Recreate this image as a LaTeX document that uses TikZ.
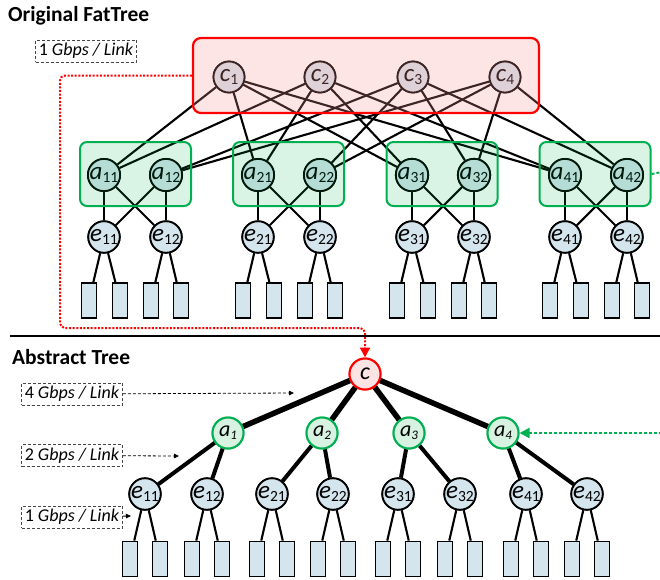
\documentclass[tikz,border=0pt]{standalone}
\usepackage{fontspec}
\setmainfont{Carlito}
\usetikzlibrary{arrows.meta}

\definecolor{swblue}{RGB}{213,229,238}
\definecolor{pgreen}{RGB}{0,176,80}
\definecolor{coretint}{RGB}{250,150,150}
\definecolor{rootfill}{RGB}{253,228,228}
\definecolor{aggfill}{RGB}{216,242,226}
\definecolor{labelgray}{RGB}{70,70,70}

% switch label: italic letter with a lowered index
\newcommand\swl[2]{{\fontsize{25}{25}\selectfont\itshape #1}\raisebox{-3pt}{\fontsize{15.5}{15.5}\selectfont #2}}
\newcommand\swm[2]{{\fontsize{22}{22}\selectfont\itshape #1}\raisebox{-3pt}{\fontsize{13}{13}\selectfont\itshape #2}}
\newcommand\rate[1]{{\fontsize{18}{18}\selectfont #1 \textit{Gbps / Link}}}

\begin{document}
\begin{tikzpicture}[x=1pt,y=-1pt,
  sw/.style={circle, draw=black, line width=1.8pt, fill=swblue, minimum size=31pt, inner sep=0pt},
  host/.style={rectangle, draw=black, line width=1.8pt, fill=swblue, minimum width=15pt, minimum height=35pt, inner sep=0pt},
  link/.style={line width=2.1pt},
  fatlink/.style={line width=5.5pt},
  midlink/.style={line width=4pt},
  podbox/.style={rectangle, rounded corners=7pt, draw=pgreen, line width=2pt, fill=pgreen, fill opacity=0.15, minimum width=111pt, minimum height=64pt},
  corebox/.style={rectangle, rounded corners=8pt, draw=red, line width=2.2pt, fill=coretint, fill opacity=0.25, minimum width=346pt, minimum height=75pt},
  ratebox/.style={draw=labelgray, dash pattern=on 3pt off 2pt, line width=0.9pt, minimum width=101pt, minimum height=22pt, inner sep=0pt},
  ratearrow/.style={dash pattern=on 3pt off 2pt, line width=0.8pt, -{Triangle[length=5pt,width=4.5pt]}},
  redlink/.style={red, line width=2pt, dash pattern=on 2pt off 1.6pt, rounded corners=5pt, -{Triangle[length=10pt,width=10pt]}},
  greenlink/.style={pgreen, line width=2pt, dash pattern=on 3pt off 2pt},
  title/.style={anchor=west, font=\fontsize{21.5}{21.5}\selectfont\bfseries, inner sep=0pt}
]
\useasboundingbox (0,0) rectangle (660,579);

% ---------------- FatTree ----------------
\node[title] (t1) at (8,16) {Original FatTree};
\node[ratebox] (r0) at (86,51) {\rate{1}};

% core switches
\foreach \i/\x in {1/229,2/320,3/413,4/505}
  \node[sw] (c\i) at (\x,77) {\swl{c}{\i}};

% pods
\foreach \p/\x in {1/104,2/258,3/412,4/565}{
  \node[sw] (a\p1) at (\x,175) {\swl{a}{\p1}};
  \node[sw] (a\p2) at (\x+62,175) {\swl{a}{\p2}};
  \node[sw] (e\p1) at (\x,237) {\swl{e}{\p1}};
  \node[sw] (e\p2) at (\x+62,237) {\swl{e}{\p2}};
  \node[host] (h\p1a) at (\x-15,300.5) {};
  \node[host] (h\p1b) at (\x+16,300.5) {};
  \node[host] (h\p2a) at (\x+47,300.5) {};
  \node[host] (h\p2b) at (\x+77,300.5) {};
}

\foreach \p in {1,...,4}{
  \draw[link] (c1) -- (a\p1);
  \draw[link] (c2) -- (a\p1);
  \draw[link] (c3) -- (a\p2);
  \draw[link] (c4) -- (a\p2);
  \draw[link] (a\p1) -- (e\p1);
  \draw[link] (a\p1) -- (e\p2);
  \draw[link] (a\p2) -- (e\p1);
  \draw[link] (a\p2) -- (e\p2);
  \draw[link] (e\p1) -- (h\p1a);
  \draw[link] (e\p1) -- (h\p1b);
  \draw[link] (e\p2) -- (h\p2a);
  \draw[link] (e\p2) -- (h\p2b);
}

% redraw switches above the links
\foreach \i/\x in {1/229,2/320,3/413,4/505}
  \node[sw] at (\x,77) {\swl{c}{\i}};
\foreach \p/\x in {1/104,2/258,3/412,4/565}{
  \node[sw] at (\x,175) {\swl{a}{\p1}};
  \node[sw] at (\x+62,175) {\swl{a}{\p2}};
  \node[sw] at (\x,237) {\swl{e}{\p1}};
  \node[sw] at (\x+62,237) {\swl{e}{\p2}};
}

% tinted group boxes
\foreach \p/\x in {1/135.5,2/288.5,3/442,4/595}
  \node[podbox] (pod\p) at (\x,174) {};
\node[corebox] (core) at (366,75.5) {};

% divider
\coordinate (d1) at (10,336);
\coordinate (d2) at (661,336);
\draw[line width=1.4pt] (d1) -- (d2);

% ---------------- Abstract tree ----------------
\node[title] (t2) at (12,357) {Abstract Tree};

\node[circle, draw=red, line width=2pt, fill=rootfill, minimum size=31pt, inner sep=0pt] (C) at (365,374) {{\fontsize{24}{24}\selectfont\itshape c}};

\foreach \i/\x in {1/228,2/322,3/409,4/503}
  \node[circle, draw=pgreen, line width=2pt, fill=aggfill, minimum size=31pt, inner sep=0pt] (A\i) at (\x,433) {\swm{a}{\i}};

\foreach \n/\x in {11/145,12/207,21/272,22/333,31/398,32/460,41/526,42/587}{
  \node[sw] (E\n) at (\x,494) {\swl{e}{\n}};
  \node[host] (H\n a) at (\x-15,559) {};
  \node[host] (H\n b) at (\x+15,559) {};
}

\foreach \i in {1,...,4}
  \draw[fatlink] (C) -- (A\i);
\foreach \i in {1,...,4}{
  \draw[midlink] (A\i) -- (E\i1);
  \draw[midlink] (A\i) -- (E\i2);
}
\foreach \n in {11,12,21,22,31,32,41,42}{
  \draw[link] (E\n) -- (H\n a);
  \draw[link] (E\n) -- (H\n b);
}
% keep node outlines above the link ends
\node[circle, draw=red, line width=2pt, fill=rootfill, minimum size=31pt, inner sep=0pt] at (365,374) {{\fontsize{24}{24}\selectfont\itshape c}};
\foreach \i/\x in {1/228,2/322,3/409,4/503}
  \node[circle, draw=pgreen, line width=2pt, fill=aggfill, minimum size=31pt, inner sep=0pt] at (\x,433) {\swm{a}{\i}};
\foreach \n/\x in {11/145,12/207,21/272,22/333,31/398,32/460,41/526,42/587}
  \node[sw] at (\x,494) {\swl{e}{\n}};

% per-level link rates
\node[ratebox] (r4) at (72,394) {\rate{4}};
\node[ratebox] (r2) at (72,455.5) {\rate{2}};
\node[ratebox] (r1) at (72,517) {\rate{1}};
\coordinate (p4) at (294,393);
\coordinate (p2) at (179,456);
\coordinate (p1) at (131,516);
\draw[ratearrow] (r4) -- (p4);
\draw[ratearrow] (r2) -- (p2);
\draw[ratearrow] (r1) -- (p1);

% cross-references between the two views
\coordinate (redturn) at (60,328);
\draw[redlink] (core.west) -| (redturn) -| (C.north);
\coordinate (gout) at (662,172);
\coordinate (gin) at (662,433);
\draw[greenlink] (pod4.east) -- (gout);
\draw[greenlink, -{Triangle[length=10pt,width=10pt]}] (gin) -- (A4.east);
\end{tikzpicture}
\end{document}
